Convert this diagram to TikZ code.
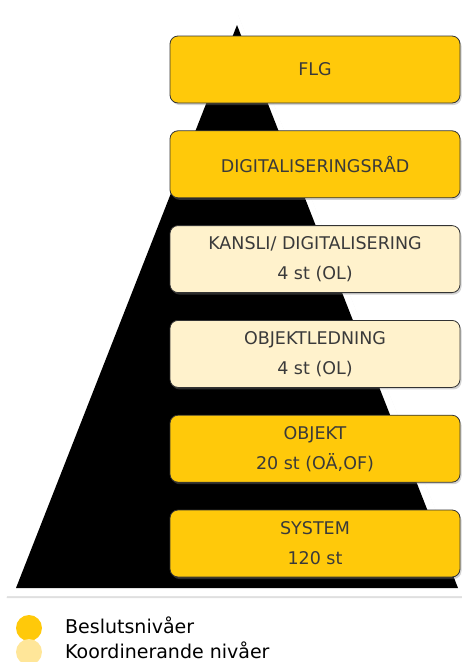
\documentclass[tikz,border=0pt]{standalone}
\usepackage{fontspec}
\setmainfont{DejaVu Sans}
\usetikzlibrary{positioning,shadows}

\definecolor{beslut}{HTML}{FFC90A}
\definecolor{koord}{HTML}{FFF2CC}
\definecolor{koordlegend}{HTML}{FFE699}
\definecolor{boxtext}{HTML}{3A3A3A}

\tikzset{
  level/.style={rectangle, draw=black!80, line width=0.8pt, rounded corners=8pt,
    minimum width=290pt, minimum height=67pt, align=center, text=boxtext,
    font=\fontsize{17.5}{30}\selectfont,
    drop shadow={opacity=0.35, shadow xshift=1.5pt, shadow yshift=-2pt}},
  beslutbox/.style={level, fill=beslut},
  koordbox/.style={level, fill=koord},
  legendtext/.style={anchor=base west, font=\fontsize{19}{19}\selectfont, inner sep=0pt}
}

\begin{document}
\begin{tikzpicture}[x=1pt, y=-1pt, node distance=27pt]
    \useasboundingbox (0,0) rectangle (462,662);

    % Pyramid with white outline
    \fill[white, drop shadow={opacity=0.25, shadow xshift=0.5pt, shadow yshift=-2pt}]
        (237,12) -- (470,596) -- (6,596) -- cycle;
    \fill[black] (237,25) -- (458,588) -- (16,588) -- cycle;

    % Decision levels and coordinating levels
    \node[beslutbox] (flg) at (315,69.5) {FLG};
    \node[beslutbox, below=of flg] (rad) {DIGITALISERINGSRÅD};
    \node[koordbox, below=of rad] (kansli) {KANSLI/ DIGITALISERING\\4 st (OL)};
    \node[koordbox, below=of kansli] (objled) {OBJEKTLEDNING\\4 st (OL)};
    \node[beslutbox, below=of objled] (objekt) {OBJEKT\\20 st (OÄ,OF)};
    \node[beslutbox, below=of objekt] (system) {SYSTEM\\120 st};

    % Legend
    \fill[beslut] (29,628) circle (13);
    \fill[koordlegend] (29,652) circle (13);
    \node[legendtext] (lbeslut) at (65,633) {Beslutsnivåer};
    \node[legendtext] (lkoord) at (65,658) {Koordinerande nivåer};
\end{tikzpicture}
\end{document}
